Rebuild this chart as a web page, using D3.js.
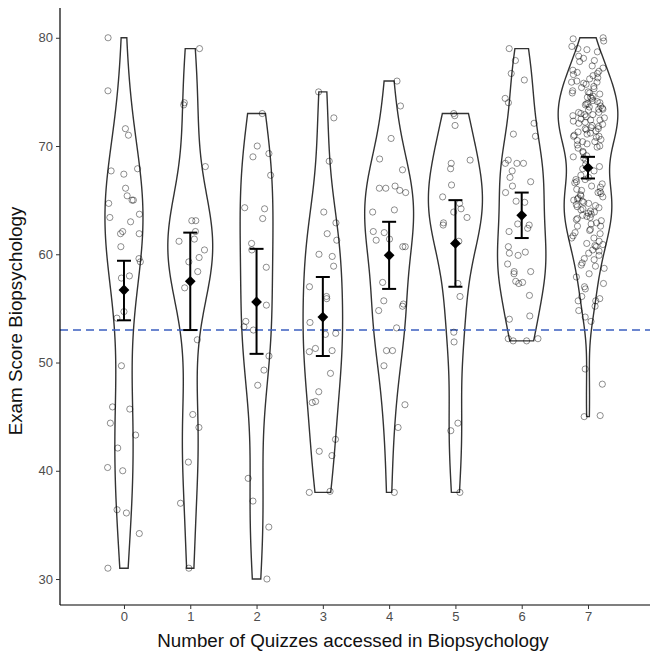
<!DOCTYPE html>
<html>
<head>
<meta charset="utf-8">
<script src="https://cdn.jsdelivr.net/npm/d3@7"></script>
<style>
  body { margin: 0; background: #fff; }
  text { font-family: "Liberation Sans", Arial, sans-serif; }
</style>
</head>
<body>
<svg width="650" height="657"></svg>
<script>
// number of quizzes accessed (x categories)
var quizCounts = [0, 1, 2, 3, 4, 5, 6, 7];

// exam scores per group
var scores0 = [80.0, 75.1, 71.6, 71.0, 67.9, 67.7, 67.4, 66.1, 65.4, 65.0, 64.7, 65.0, 63.7, 63.4, 63.0,
  62.1, 61.9, 61.9, 60.7, 59.6, 59.3, 58.0, 57.8, 54.7, 54.1, 49.7, 45.7, 45.9, 44.4, 43.3, 42.1,
  40.3, 40.0, 36.4, 36.1, 34.2, 31.0];
var scores1 = [79.0, 73.8, 74.0, 68.1, 63.1, 63.1, 62.1, 61.4, 61.2, 60.4, 59.7, 59.3, 58.4, 56.9,
  52.1, 45.2, 44.0, 40.8, 37.0, 31.0];
var scores2 = [73.0, 70.0, 69.3, 69.0, 67.3, 64.2, 64.3, 63.3, 61.0, 60.4, 58.8, 55.3, 53.8, 53.3,
  53.0, 50.6, 49.3, 47.9, 39.3, 37.2, 34.8, 30.0];
var scores3 = [75.0, 72.6, 68.6, 63.9, 62.9, 61.9, 61.3, 60.0, 59.8, 58.9, 57.0, 55.9, 56.1, 53.7,
  52.6, 52.7, 51.0, 51.3, 51.1, 49.0, 47.3, 46.3, 46.4, 42.9, 41.8, 41.4, 38.1, 38.0];
var scores4 = [76.0, 73.7, 70.7, 68.8, 67.8, 66.1, 66.1, 66.3, 65.9, 65.7, 63.9, 64.1, 62.1, 62.0,
  61.3, 61.4, 60.7, 60.7, 57.4, 55.7, 55.4, 55.2, 54.8, 53.2, 51.1, 51.1, 49.7, 46.1, 44.0, 38.0];
var scores5 = [73.0, 72.8, 71.9, 68.4, 67.9, 68.7, 66.4, 65.3, 64.7, 64.2, 63.9, 63.4, 62.9, 62.7,
  61.2, 57.3, 56.1, 52.8, 51.9, 44.4, 43.7, 38.0];
var scores6 = [79.0, 77.9, 76.7, 76.1, 74.4, 74.0, 72.1, 71.1, 70.9, 68.7, 68.4, 68.4, 68.4, 67.7,
  67.1, 66.7, 66.3, 65.7, 64.9, 64.8, 62.8, 62.4, 62.7, 62.1, 60.7, 60.2, 60.1, 59.9, 59.1, 58.4,
  58.4, 58.2, 57.4, 57.5, 57.3, 56.2, 54.3, 54.0, 52.0, 52.2, 52.2, 52.0];
var scores7 = [45.0, 45.1, 48.0, 49.4, 53.8, 54.2, 54.8, 55.7,
  55.2, 55.7, 55.9, 56.1, 56.8, 57.0, 57.3, 57.9, 58.2, 58.7, 58.9,
  59.0, 59.2, 59.5, 59.6, 59.9, 60.1, 60.3, 60.4, 60.7, 60.8, 60.9,
  61.0, 61.2, 61.5, 61.5, 61.7, 61.9, 62.0, 62.2, 62.3, 62.6, 62.6, 62.8, 62.9,
  63.1, 63.2, 63.3, 63.4, 63.5, 63.6, 63.7, 63.8, 63.9,
  64.0, 64.1, 64.2, 64.3, 64.4, 64.5, 64.6, 64.7, 64.8, 64.9,
  65.0, 65.1, 65.2, 65.3, 65.4, 65.5, 65.6, 65.7, 65.8, 65.9,
  66.0, 66.2, 66.3, 66.5, 66.6, 66.7, 66.9, 66.9,
  67.1, 67.3, 67.7, 67.9, 68.1, 68.3, 68.7, 68.9,
  69.0, 69.1, 69.4, 69.5, 69.8, 69.9,
  70.0, 70.1, 70.2, 70.4, 70.4, 70.5, 70.6, 70.8, 70.9, 70.9,
  71.0, 71.1, 71.2, 71.3, 71.4, 71.5, 71.6, 71.6, 71.7, 71.8, 71.9,
  72.0, 72.1, 72.2, 72.3, 72.4, 72.4, 72.5, 72.6, 72.7, 72.8, 72.9, 72.9,
  73.0, 73.1, 73.1, 73.3, 73.4, 73.4, 73.5, 73.6, 73.7, 73.8, 73.9, 73.9,
  74.0, 74.1, 74.2, 74.4, 74.5, 74.5, 74.6, 74.8, 74.9, 74.9,
  75.0, 75.1, 75.3, 75.4, 75.5, 75.7, 75.8, 75.9, 75.9,
  76.0, 76.2, 76.3, 76.5, 76.6, 76.7, 76.8, 76.9,
  77.0, 77.2, 77.4, 77.8, 77.9, 78.1, 78.3, 78.7, 78.9,
  79.0, 79.2, 79.7, 79.9, 80.0];
var allScores = [scores0, scores1, scores2, scores3, scores4, scores5, scores6, scores7];

// group means and interval ends (diamonds + error bars)
var meanScores = [56.7, 57.5, 55.6, 54.2, 59.9, 61.0, 63.6, 68.0];
var ciLower    = [53.9, 53.0, 50.8, 50.6, 56.8, 57.0, 61.5, 67.0];
var ciUpper    = [59.4, 62.0, 60.5, 57.9, 63.0, 65.0, 65.7, 69.0];

var yTicks = [30, 40, 50, 60, 70, 80];
var cutScore = 53;

var svg = d3.select("svg");
var mLeft = 60, mRight = 646, mTop = 8, mBottom = 605;

var x = d3.scaleLinear().domain([-0.965, 7.875]).range([mLeft, mRight]);
var y = d3.scaleLinear().domain([27.6, 82.75]).range([mBottom, mTop]);
var step = x(1) - x(0);

// gaussian kde, bandwidth like R's bw.nrd0, trimmed to data range
function bwNrd0(v) {
  var s = v.slice().sort(d3.ascending);
  var iqr = d3.quantile(s, 0.75) - d3.quantile(s, 0.25);
  var lo = Math.min(d3.deviation(v), iqr / 1.34);
  return 0.9 * lo * Math.pow(v.length, -0.2);
}
function kde(v) {
  var bw = bwNrd0(v), mn = d3.min(v), mx = d3.max(v), n = 256;
  return d3.range(n).map(function(i) {
    var yy = mn + (mx - mn) * i / (n - 1);
    var d = d3.mean(v, function(s) { var z = (yy - s) / bw; return Math.exp(-0.5 * z * z); });
    return {y: yy, d: d / (bw * Math.sqrt(2 * Math.PI))};
  });
}

var dens = allScores.map(kde);
var maxD = d3.max(dens, function(g) { return d3.max(g, function(p) { return p.d; }); });
var halfW = d3.scaleLinear().domain([0, maxD]).range([0, 0.45 * step]);

// violins
var line = d3.line().x(function(p) { return p[0]; }).y(function(p) { return p[1]; });
svg.append("g").selectAll("path")
  .data(dens)
  .enter().append("path")
    .attr("d", function(g, i) {
      var cx = x(quizCounts[i]);
      var pts = g.map(function(p) { return [cx + halfW(p.d), y(p.y)]; });
      var back = g.slice().reverse().map(function(p) { return [cx - halfW(p.d), y(p.y)]; });
      return line(pts.concat(back)) + "Z";
    })
    .style("fill", "#fff")
    .style("stroke", "#333")
    .style("stroke-width", 1.4);

// cut-off line
svg.append("line")
  .attr("x1", mLeft).attr("x2", 650)
  .attr("y1", y(cutScore)).attr("y2", y(cutScore))
  .style("stroke", "#3b5fc0")
  .style("stroke-width", 1.4)
  .style("stroke-dasharray", "8,5");

// jittered points (fixed seed so the picture is stable)
var seed = 12345;
function jit() {
  seed = (seed * 1664525 + 1013904223) % 4294967296;
  return seed / 4294967296 - 0.5;
}
var pts = [];
allScores.forEach(function(g, i) {
  g.forEach(function(s) { pts.push({q: quizCounts[i], s: s, dx: jit() * 0.5}); });
});
svg.append("g").selectAll("circle")
  .data(pts)
  .enter().append("circle")
    .attr("cx", function(d) { return x(d.q + d.dx); })
    .attr("cy", function(d) { return y(d.s); })
    .attr("r", 3.1)
    .style("fill", "none")
    .style("stroke", "#000")
    .style("stroke-opacity", 0.55)
    .style("stroke-width", 0.8);

// error bars
var eb = svg.append("g").selectAll("g")
  .data(quizCounts)
  .enter().append("g");
eb.append("line")
  .attr("x1", function(d) { return x(d); }).attr("x2", function(d) { return x(d); })
  .attr("y1", function(d, i) { return y(ciLower[i]); })
  .attr("y2", function(d, i) { return y(ciUpper[i]); });
eb.append("line")
  .attr("x1", function(d) { return x(d) - 7; }).attr("x2", function(d) { return x(d) + 7; })
  .attr("y1", function(d, i) { return y(ciLower[i]); })
  .attr("y2", function(d, i) { return y(ciLower[i]); });
eb.append("line")
  .attr("x1", function(d) { return x(d) - 7; }).attr("x2", function(d) { return x(d) + 7; })
  .attr("y1", function(d, i) { return y(ciUpper[i]); })
  .attr("y2", function(d, i) { return y(ciUpper[i]); });
eb.selectAll("line").style("stroke", "#000").style("stroke-width", 2);

// mean diamonds
eb.append("path")
  .attr("d", d3.symbol().type(d3.symbolSquare).size(58))
  .attr("transform", function(d, i) { return "translate(" + x(d) + "," + y(meanScores[i]) + ") rotate(45)"; })
  .style("fill", "#000");

// axes
var yAxis = svg.append("g")
  .attr("transform", "translate(" + mLeft + ",0)")
  .call(d3.axisLeft(y).tickValues(yTicks).tickSize(4).tickPadding(3));
var xAxis = svg.append("g")
  .attr("transform", "translate(0," + mBottom + ")")
  .call(d3.axisBottom(x).tickValues(quizCounts).tickFormat(d3.format("d")).tickSize(4).tickPadding(3));
[xAxis, yAxis].forEach(function(a) {
  a.select(".domain").style("stroke", "#000").style("stroke-width", 1.2);
  a.selectAll(".tick line").style("stroke", "#333").style("stroke-width", 1);
  a.selectAll(".tick text").style("fill", "#4d4d4d").style("font-size", "13px")
    .style("font-family", "'Liberation Sans', Arial, sans-serif");
});
yAxis.select(".domain").attr("d", "M0," + mTop + "V" + mBottom);
xAxis.select(".domain").attr("d", "M" + mLeft + ",0H" + 650);

svg.append("text")
  .attr("x", 353)
  .attr("y", 647)
  .attr("text-anchor", "middle")
  .style("font-size", "18.8px")
  .style("fill", "#111")
  .text("Number of Quizzes accessed in Biopsychology");

svg.append("text")
  .attr("transform", "translate(22,321) rotate(-90)")
  .attr("text-anchor", "middle")
  .style("font-size", "18.8px")
  .style("fill", "#111")
  .text("Exam Score Biopsychology");
</script>
</body>
</html>
